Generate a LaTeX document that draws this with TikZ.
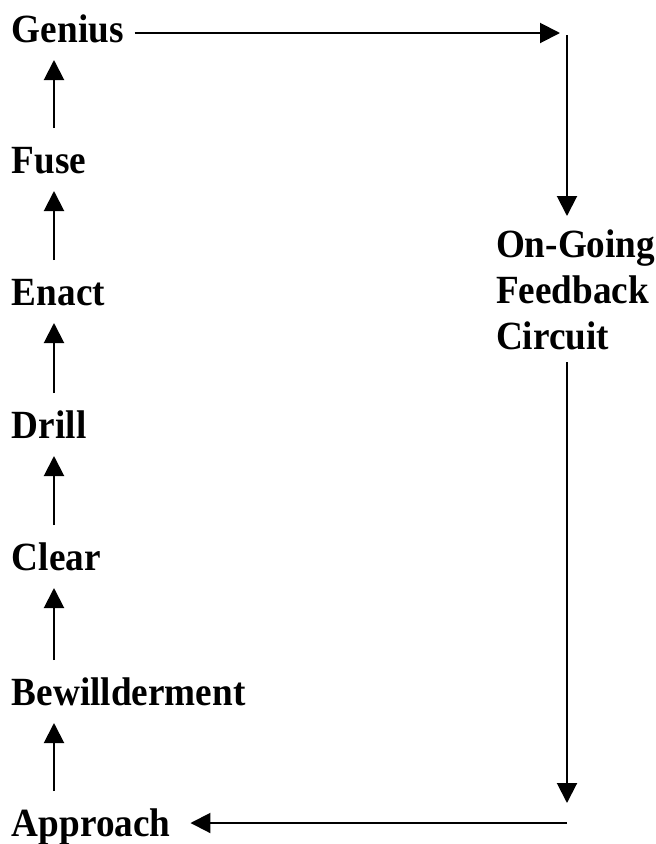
\documentclass[tikz,border=0pt]{standalone}
\usepackage{fontspec}
\setmainfont{Liberation Serif}
\newfontfamily\lblfont[FakeStretch=0.93]{Liberation Serif}
\usetikzlibrary{arrows.meta}
\tikzset{
  lbl/.style={anchor=base west, inner sep=0pt, outer sep=0pt, text height=27pt, text depth=0pt,
              font=\lblfont\fontsize{40}{46}\selectfont\bfseries},
  fbk/.style={anchor=north west, inner sep=0pt, outer sep=0pt, align=left,
              font=\lblfont\fontsize{40}{46}\selectfont\bfseries},
  arr/.style={line width=2pt, -{Triangle[length=20pt,width=20pt]}},
  uparr/.style={arr, shorten <=18pt, shorten >=18pt}
}
\begin{document}
\begin{tikzpicture}[x=1pt,y=1pt]
\useasboundingbox (0,0) rectangle (656,-844);
\node[lbl] (genius)   at (12,-42)  {Genius};
\node[lbl] (fuse)     at (12,-173) {Fuse};
\node[lbl] (enact)    at (12,-305) {Enact};
\node[lbl] (drill)    at (12,-438) {Drill};
\node[lbl] (clear)    at (12,-570) {Clear};
\node[lbl] (bewild)   at (12,-705) {Bewillderment};
\node[lbl] (approach) at (12,-836) {Approach};
\node[fbk] (fb) at (496,-230) {On-Going\\Feedback\\Circuit};
\coordinate (ax) at (54,0);
\coordinate (tr) at (567,-33);
\coordinate (br) at (567,-823);
% left column
\draw[uparr] (fuse.north -| ax) -- (genius.south -| ax);
\draw[uparr] (enact.north -| ax) -- (fuse.south -| ax);
\draw[uparr] (drill.north -| ax) -- (enact.south -| ax);
\draw[uparr] (clear.north -| ax) -- (drill.south -| ax);
\draw[uparr] (bewild.north -| ax) -- (clear.south -| ax);
\draw[uparr] (approach.north -| ax) -- (bewild.south -| ax);
% loop
\draw[arr] ([xshift=11pt]genius.east |- tr) -- ([xshift=-7pt]tr);
\draw[arr] ([yshift=-2pt]tr) -- ([yshift=14pt]fb.north -| tr);
\draw[arr] ([yshift=-12pt]fb.south -| tr) -- ([yshift=20pt]br);
\draw[arr] (br) -- ([xshift=20pt]approach.east |- br);
\end{tikzpicture}
\end{document}
